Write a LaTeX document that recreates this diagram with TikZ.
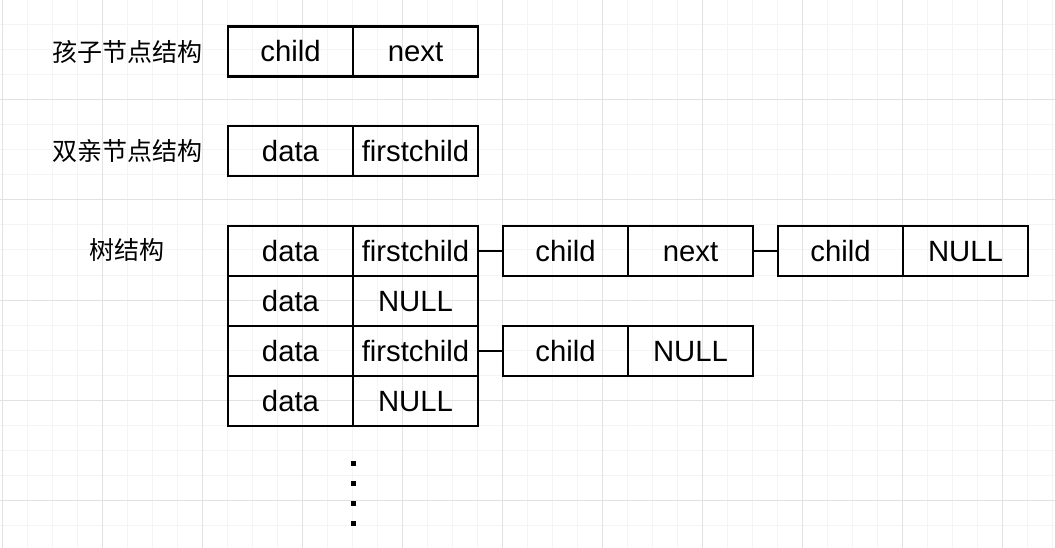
\documentclass[tikz,border=0pt]{standalone}
\usepackage{fontspec}
\setmainfont{Liberation Sans}
\newfontfamily\cjk{Noto Sans CJK SC}
\definecolor{minorgrid}{HTML}{F4F4F4}
\definecolor{majorgrid}{HTML}{E2E2E2}
\begin{document}
\begin{tikzpicture}[x=1pt,y=-1pt,
  cell/.style={draw, line width=2.7pt, minimum width=125pt, minimum height=50pt,
    inner sep=0pt, outer sep=0pt, font=\fontsize{29.3}{29.3}\selectfont,
    text height=21pt, text depth=0pt, anchor=center},
  lbl/.style={font=\cjk\fontsize{25}{25}\selectfont, inner sep=0pt},
  link/.style={line width=2.7pt},
  dotmark/.style={fill=black}]
\fill[white] (0,0) rectangle (1055,548);
\useasboundingbox (0,0) rectangle (1055,548);
% grid
\foreach \x in {2.5,27.5,...,1055} \draw[minorgrid, line width=1pt] (\x,0) -- (\x,548);
\foreach \y in {0,25,...,548} \draw[minorgrid, line width=1pt] (0,\y) -- (1055,\y);
\foreach \x in {2.5,102.5,...,1055} \draw[majorgrid, line width=1pt] (\x,0) -- (\x,548);
\foreach \y in {0,100,...,548} \draw[majorgrid, line width=1pt] (0,\y) -- (1055,\y);
% labels
\node[lbl] (l1) at (127.5,51.5) {孩子节点结构};
\node[lbl] (l2) at (127.5,151) {双亲节点结构};
\node[lbl] (l3) at (127,250) {树结构};
% child node structure
\node[cell] (a1) at (290.5,51.5) {child};
\node[cell] (a2) at (415.5,51.5) {next};
% parent node structure
\node[cell] (b1) at (290.5,151) {data};
\node[cell] (b2) at (415.5,151) {firstchild};
% tree structure
\node[cell] (t11) at (290.5,251) {data};
\node[cell] (t12) at (415.5,251) {firstchild};
\node[cell] (t21) at (290.5,301) {data};
\node[cell] (t22) at (415.5,301) {NULL};
\node[cell] (t31) at (290.5,351) {data};
\node[cell] (t32) at (415.5,351) {firstchild};
\node[cell] (t41) at (290.5,401) {data};
\node[cell] (t42) at (415.5,401) {NULL};
% child lists
\node[cell] (c11) at (565.5,251) {child};
\node[cell] (c12) at (690.5,251) {next};
\node[cell] (c21) at (840.5,251) {child};
\node[cell] (c22) at (965.5,251) {NULL};
\node[cell] (d11) at (565.5,351) {child};
\node[cell] (d12) at (690.5,351) {NULL};
% connectors
\draw[link] (t12.east) -- (c11.west);
\draw[link] (c12.east) -- (c21.west);
\draw[link] (t32.east) -- (d11.west);
% vertical ellipsis
\foreach \y in {463,483,503,523} \fill[dotmark] (350.7,\y-2.5) rectangle ++(5,5);
\end{tikzpicture}
\end{document}
